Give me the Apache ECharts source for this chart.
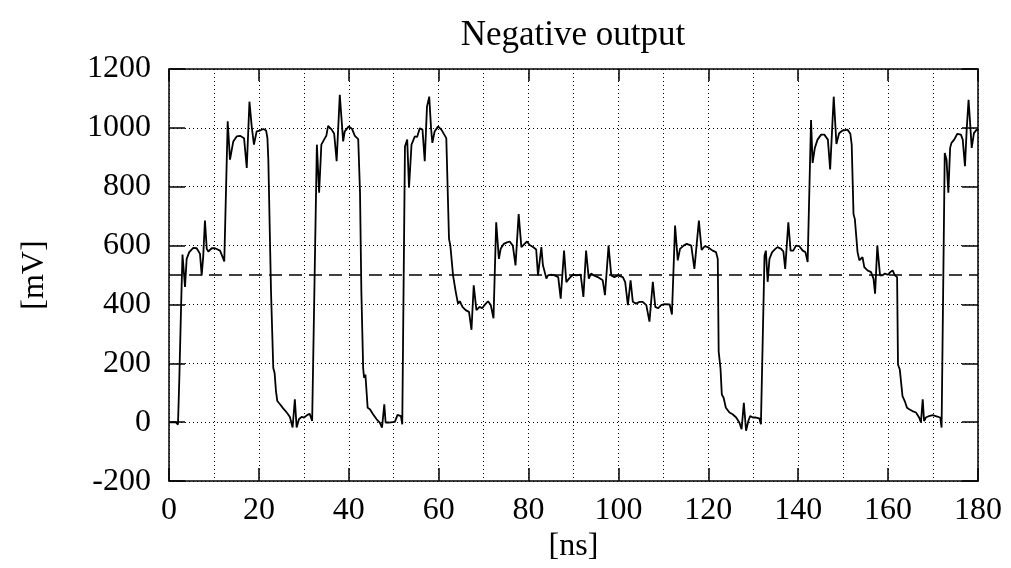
<!DOCTYPE html>
<html>
<head>
<meta charset="utf-8">
<script src="https://cdn.jsdelivr.net/npm/echarts@6/dist/echarts.min.js"></script>
<style>html,body{margin:0;padding:0;background:#fff}#c{width:1011px;height:568px}</style>
</head>
<body>
<div id="c"></div>
<script>
const titleText = 'Negative output';
const xName = '[ns]';
const yName = '[mV]';
const xTicks = [0, 20, 40, 60, 80, 100, 120, 140, 160, 180];
const yTicks = [-200, 0, 200, 400, 600, 800, 1000, 1200];
const threshold = 500;
const timeNs = [0,1.5,2.0,2.3,2.7,3.0,3.56,3.93,4.5,5.4,6.16,6.9,7.27,7.6,8.0,8.4,8.75,9.5,10.24,11.35,12.1,12.3,13.06,13.57,13.8,14.3,15.06,15.8,16.7,17.3,17.9,18.4,18.9,19.5,20.25,21.0,21.6,21.9,22.1,22.7,23.2,23.5,23.8,24.1,24.7,25.4,26.2,26.9,27.5,28.0,28.4,28.9,29.5,30.07,30.8,31.3,31.85,32.1,32.9,33.4,33.9,34.5,35.0,35.4,36.2,36.75,37.3,38.0,38.75,39.1,40.0,40.75,41.35,42.1,42.5,42.8,43.2,43.4,43.7,44.2,44.7,45.4,46.2,46.9,47.4,47.9,48.2,48.9,50.25,50.85,51.6,51.9,52.5,53.0,53.4,53.96,54.7,55.2,55.8,56.4,56.9,57.4,57.9,58.3,58.6,59.1,59.85,60.6,61.7,62.1,62.3,62.6,63.2,63.8,64.3,64.7,65.3,66.0,66.75,67.3,67.8,68.4,69.1,69.7,70.2,70.98,71.6,72.2,72.8,73.4,73.8,74.5,75.2,75.8,76.5,77.1,77.8,78.4,79.1,79.66,80.25,81.0,81.7,82.1,82.5,82.85,83.2,83.6,83.96,84.3,85.1,85.8,86.6,87.15,87.9,88.4,89.0,89.85,90.6,91.6,92.2,92.8,93.4,93.9,94.5,95.4,96.5,97.0,97.8,98.4,99.1,99.9,100.98,101.5,102.1,102.7,103.2,103.9,104.7,105.4,106.2,106.9,107.65,108.2,108.8,109.5,110.25,111.4,111.9,112.6,113.2,113.7,114.5,115.2,116.2,116.9,117.9,118.5,119.2,119.85,120.96,121.7,122.1,122.3,122.7,123.0,123.4,123.9,124.3,124.7,125.4,126.2,126.9,127.4,127.9,128.4,128.9,129.3,129.9,130.6,131.35,131.7,132.5,132.8,133.2,133.6,134.2,134.9,135.4,136.2,136.7,137.1,137.8,138.3,138.9,139.5,140.25,141.0,141.6,142.1,142.85,143.2,143.7,144.3,145.1,145.8,146.6,147.1,147.9,148.5,149.1,149.85,150.96,151.6,151.9,152.3,152.6,153.2,153.6,153.9,154.3,154.7,155.4,156.2,156.75,157.1,157.6,158.2,158.75,159.3,159.9,160.5,161.0,161.5,162.0,162.2,162.6,163.2,163.7,164.2,164.7,165.4,166.2,166.9,167.3,167.7,168.0,168.4,169.1,169.9,170.6,171.6,171.9,172.6,173.0,173.4,173.8,174.1,174.7,175.4,176.2,176.6,177.1,177.5,177.9,178.2,178.6,179.1,179.7,180];
const outputMv = [0,0,-8,150,400,570,460,555,578,592,591,572,499,560,685,589,580,591,591,583,555,546,1022,892,892,954,971,973,965,864,1089,1005,943,988,991,996,991,965,892,443,184,167,106,72,61,47,33,18,-18,78,-18,10,18,16,25,29,4,4,943,780,943,960,973,1007,994,980,887,1112,954,988,1005,996,973,962,780,443,184,151,162,49,44,27,10,-1,-18,61,-1,-1,1,25,21,-7,937,960,797,943,971,969,999,994,887,1072,1106,1000,949,988,1005,994,965,960,623,600,499,443,403,411,392,381,375,314,465,381,392,387,398,411,398,353,679,555,589,606,611,614,600,533,707,595,606,614,602,595,587,499,499,595,533,510,488,499,501,499,493,420,583,476,488,501,499,501,426,583,488,505,499,493,482,432,600,499,493,499,493,476,398,482,409,403,409,409,398,342,477,392,387,398,401,400,366,668,550,589,600,606,600,521,685,585,598,595,583,578,555,240,184,94,83,49,52,33,27,16,-1,-24,66,-29,4,21,16,16,13,-7,566,583,477,555,578,589,595,589,580,521,679,583,583,600,598,583,578,544,1027,881,932,960,977,977,960,859,1106,945,982,991,994,980,943,707,690,578,550,544,561,527,516,510,488,437,600,499,499,505,501,510,516,499,493,196,179,89,72,49,44,38,33,16,-1,78,4,16,21,24,21,16,-18,915,892,780,932,949,960,980,977,960,870,999,1095,1027,932,982,994,990];

const trace = timeNs.map((t, i) => [t, outputMv[i]]);
const xMin = xTicks[0], xMax = xTicks[xTicks.length - 1];
const yMin = yTicks[0], yMax = yTicks[yTicks.length - 1];
const font = 'Liberation Serif';
const dotted = {color: '#000', width: 1, type: [1, 3]};
const plain = v => String(v);

function frame() { return {show: true, onZero: false, lineStyle: {color: '#000', width: 1.5}}; }
function tick(len) { return {show: true, inside: true, length: len, lineStyle: {color: '#000', width: 1.5}}; }

const chart = echarts.init(document.getElementById('c'), null, {renderer: 'canvas'});
chart.setOption({
  animation: false,
  backgroundColor: '#fff',
  title: {text: titleText, left: 568, textAlign: 'center', top: 13,
    textStyle: {fontFamily: font, fontSize: 35, fontWeight: 'normal', color: '#000'}},
  grid: {left: 169, right: 33, top: 69, bottom: 84},
  xAxis: [{
    type: 'value', min: xMin, max: xMax, interval: 20, position: 'bottom',
    name: xName, nameLocation: 'middle', nameGap: 48,
    nameTextStyle: {fontFamily: font, fontSize: 32, color: '#000'},
    axisLine: frame(), axisTick: tick(13),
    axisLabel: {fontFamily: font, fontSize: 32, color: '#000', margin: 13, formatter: plain},
    splitLine: {show: true, lineStyle: dotted},
    minorTick: {show: false, splitNumber: 2},
    minorSplitLine: {show: true, lineStyle: dotted}
  }, {
    type: 'value', min: xMin, max: xMax, interval: 20, position: 'top',
    axisLine: frame(), axisTick: tick(12),
    axisLabel: {show: false}, splitLine: {show: false}
  }],
  yAxis: [{
    type: 'value', min: yMin, max: yMax, interval: 200, position: 'left',
    name: yName, nameLocation: 'middle', nameGap: 118, nameRotate: 90,
    nameTextStyle: {fontFamily: font, fontSize: 32, color: '#000'},
    axisLine: frame(), axisTick: tick(16),
    axisLabel: {fontFamily: font, fontSize: 32, color: '#000', margin: 18, formatter: plain},
    splitLine: {show: true, lineStyle: dotted}
  }, {
    type: 'value', min: yMin, max: yMax, interval: 200, position: 'right',
    axisLine: frame(), axisTick: tick(16),
    axisLabel: {show: false}, splitLine: {show: false}
  }],
  series: [{
    type: 'line', data: [[xMin, threshold], [xMax, threshold]], showSymbol: false, silent: true,
    lineStyle: {color: '#000', width: 1.5, type: [13, 7]}
  }, {
    type: 'line', data: trace, showSymbol: false, silent: true,
    lineStyle: {color: '#000', width: 1.8}
  }]
});
</script>
</body>
</html>
